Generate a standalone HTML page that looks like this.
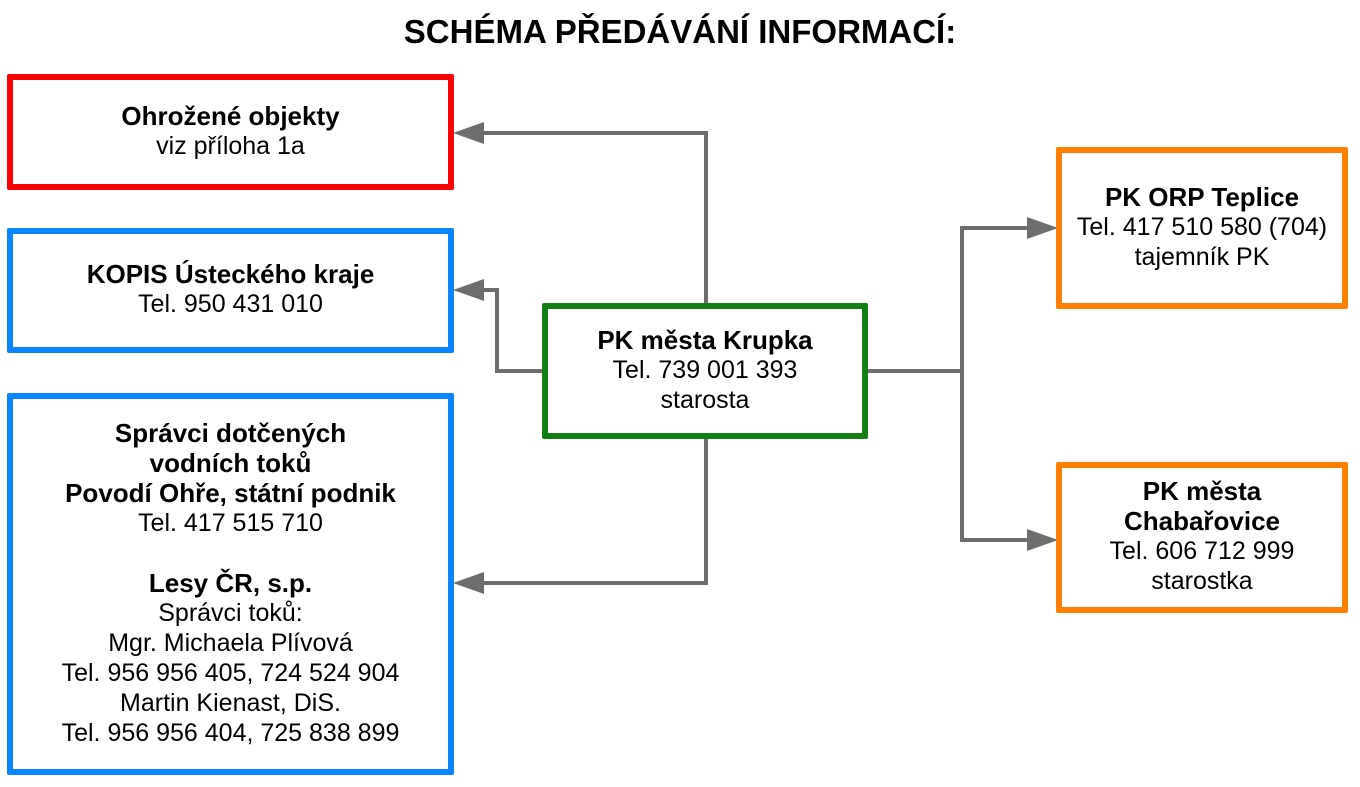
<!DOCTYPE html>
<html><head><meta charset="utf-8"><style>
body{margin:0;width:1360px;height:787px;background:#fff;position:relative;overflow:hidden;font-family:"Liberation Sans","DejaVu Sans",sans-serif;}
.t{position:absolute;left:0;width:1360px;top:13px;text-align:center;font-weight:bold;font-size:33px;color:#000;}
.b{position:absolute;box-sizing:border-box;border:6px solid;display:flex;flex-direction:column;justify-content:center;align-items:center;text-align:center;font-size:25px;line-height:30px;color:#000;background:#fff;border-radius:2px;padding-bottom:3px}
.b b{font-size:26px}
svg{position:absolute;left:0;top:0}
</style></head><body>
<div class="t">SCHÉMA PŘEDÁVÁNÍ INFORMACÍ:</div>
<svg width="1360" height="787">
<g stroke="#6d6d6d" stroke-width="4" fill="none">
<polyline points="706,304 706,133 480,133"/>
<polyline points="543,371 497,371 497,290 480,290"/>
<polyline points="706,437 706,583 480,583"/>
<polyline points="866,371 962,371"/>
<polyline points="1030,228 962,228 962,540 1030,540"/>
</g>
<g fill="#6d6d6d">
<polygon points="453,133 484,122 484,144"/>
<polygon points="453,290 484,279 484,301"/>
<polygon points="453,583 484,572 484,594"/>
<polygon points="1058,228 1027,217 1027,239"/>
<polygon points="1058,540 1027,529 1027,551"/>
</g>
</svg>
<div class="b" style="left:7px;top:74px;width:447px;height:116px;border-color:#ff0000"><b>Ohrožené objekty</b><span>viz příloha 1a</span></div>
<div class="b" style="left:7px;top:228px;width:447px;height:125px;border-color:#0a84ff"><b>KOPIS Ústeckého kraje</b><span>Tel. 950 431 010</span></div>
<div class="b" style="left:7px;top:393px;width:447px;height:382px;border-color:#0a84ff"><b>Správci dotčených</b><b>vodních toků</b><b>Povodí Ohře, státní podnik</b><span>Tel. 417 515 710</span><span>&nbsp;</span><b>Lesy ČR, s.p.</b><span>Správci toků:</span><span>Mgr. Michaela Plívová</span><span>Tel. 956 956 405, 724 524 904</span><span>Martin Kienast, DiS.</span><span>Tel. 956 956 404, 725 838 899</span></div>
<div class="b" style="left:542px;top:303px;width:326px;height:136px;border-color:#118011"><b>PK města Krupka</b><span>Tel. 739 001 393</span><span>starosta</span></div>
<div class="b" style="left:1056px;top:147px;width:292px;height:162px;border-color:#ff8000"><b>PK ORP Teplice</b><span>Tel. 417 510 580 (704)</span><span>tajemník PK</span></div>
<div class="b" style="left:1056px;top:462px;width:292px;height:151px;border-color:#ff8000"><b>PK města</b><b>Chabařovice</b><span>Tel. 606 712 999</span><span>starostka</span></div>
</body></html>
